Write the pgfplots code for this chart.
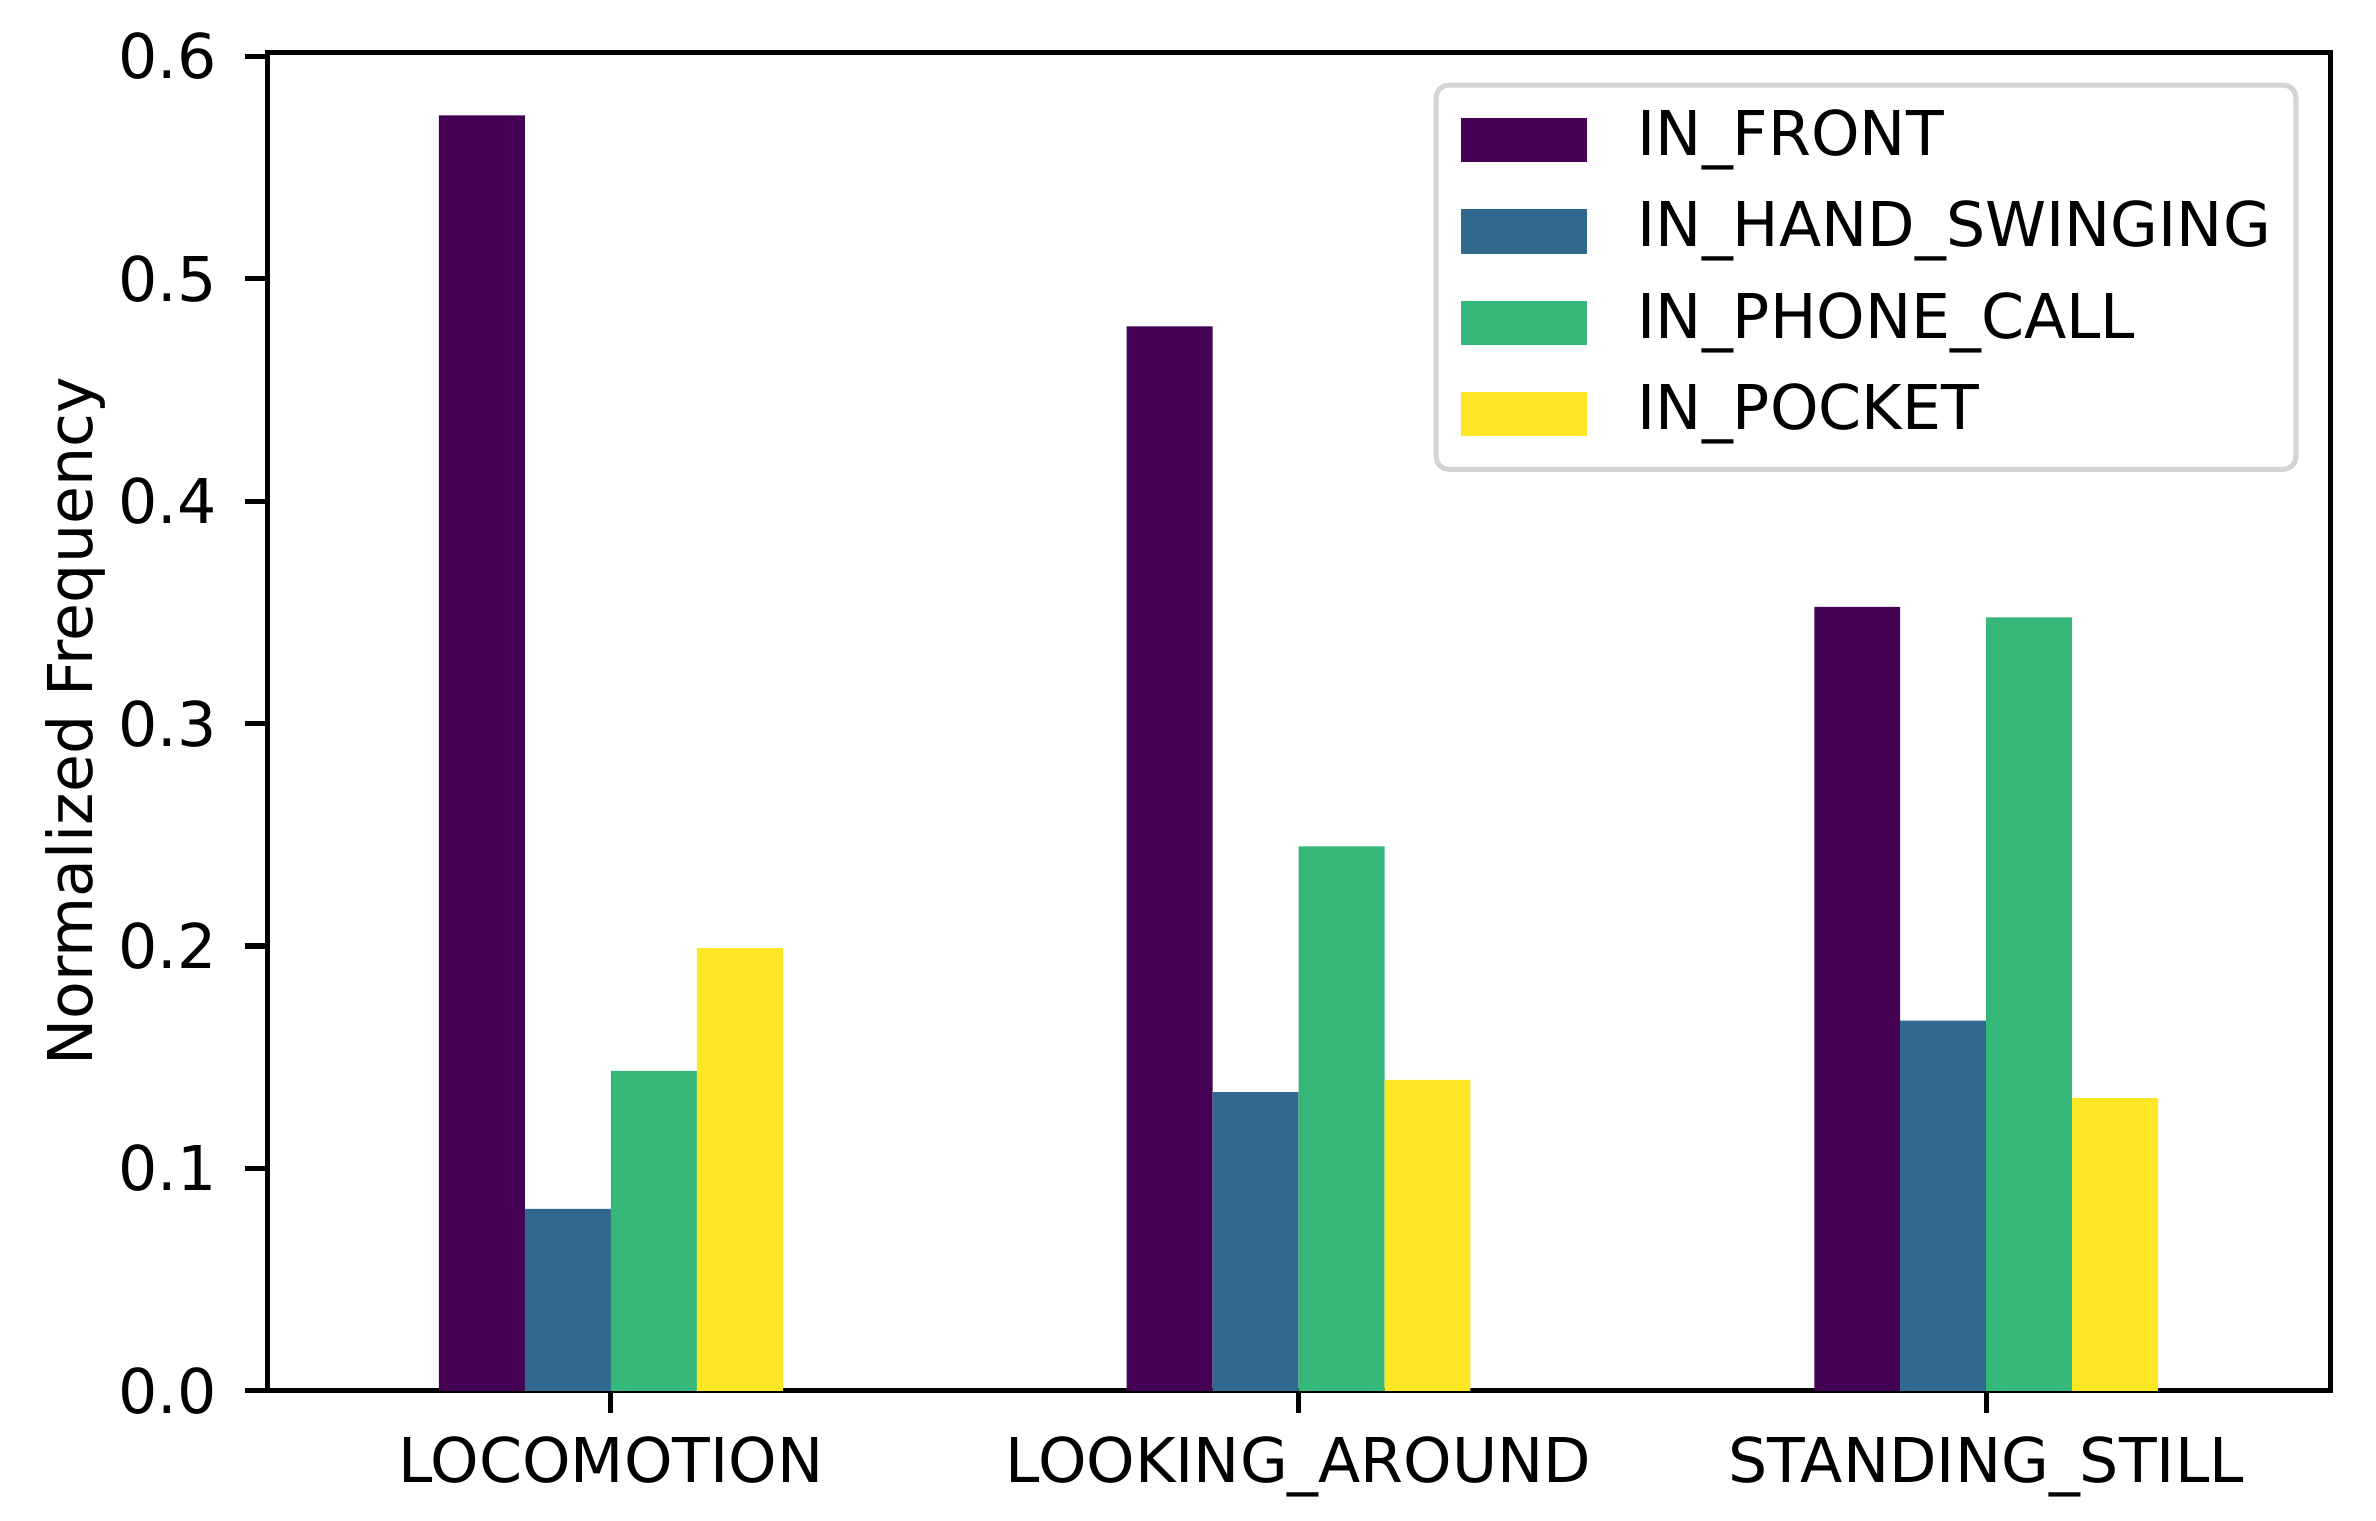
\documentclass[border=0pt]{standalone}
\usepackage{pgfplots}
\pgfplotsset{compat=1.18}
\usepackage{fontspec}
\setmainfont{DejaVu Sans}

\definecolor{vir1}{HTML}{440154}
\definecolor{vir2}{HTML}{31688E}
\definecolor{vir3}{HTML}{35B779}
\definecolor{vir4}{HTML}{FDE725}

\pgfplotsset{
  vbar/.style={fill=#1, draw=none,
    legend image code/.code={\fill[#1, sharp corners] (0pt,-3.5pt) rectangle (20pt,3.5pt);}},
}

\begin{document}
\fontsize{9.8pt}{11.8pt}\selectfont
\begin{tikzpicture}
\begin{axis}[
  scale only axis,
  width=327.5pt, height=212.5pt,
  ybar=0pt, bar width=0.125,
  xmin=-0.5, xmax=2.5,
  ymin=0, ymax=0.6018,
  xtick={0,1,2},
  xticklabels={LOCOMOTION, LOOKING\_AROUND, STANDING\_STILL},
  ytick={0,0.1,0.2,0.3,0.4,0.5,0.6},
  /pgf/number format/fixed,
  /pgf/number format/fixed zerofill,
  /pgf/number format/precision=1,
  /pgf/number format/assume math mode=true,
  yticklabel style={inner sep=0pt, xshift=-4.3pt},
  xticklabel style={inner sep=0pt, yshift=-3.5pt},
  tick align=outside, major tick length=3.5pt,
  tick style={line width=0.8pt, black},
  xtick pos=bottom, ytick pos=left,
  axis line style={line width=0.8pt},
  ylabel={Normalized Frequency},
  ylabel style={at={(axis description cs:-0.078,0.5)}, anchor=south, inner sep=0pt},
  legend cell align=left,
  legend style={at={(1,1)}, anchor=north east, xshift=-5pt, yshift=-4.8pt,
    draw=black!17, line width=0.8pt, rounded corners=2pt,
    inner xsep=4pt, inner ysep=4pt, row sep=5pt, column sep=8pt,
    nodes={inner sep=0pt, text height=7.2pt, text depth=2.3pt}},
]
\addplot[vbar=vir1, bar shift=-0.1875] coordinates {(0,0.5734) (1,0.4786) (2,0.3525)};
\addplot[vbar=vir2, bar shift=-0.0625] coordinates {(0,0.0818) (1,0.1343) (2,0.1664)};
\addplot[vbar=vir3, bar shift=0.0625] coordinates {(0,0.1439) (1,0.2448) (2,0.3477)};
\addplot[vbar=vir4, bar shift=0.1875] coordinates {(0,0.1990) (1,0.1398) (2,0.1316)};
\legend{IN\_FRONT, IN\_HAND\_SWINGING, IN\_PHONE\_CALL, IN\_POCKET}
\end{axis}
\pgfresetboundingbox
\path[use as bounding box] (-42.4pt,-20.6pt) rectangle (334.8pt,220.8pt);
\end{tikzpicture}
\end{document}
